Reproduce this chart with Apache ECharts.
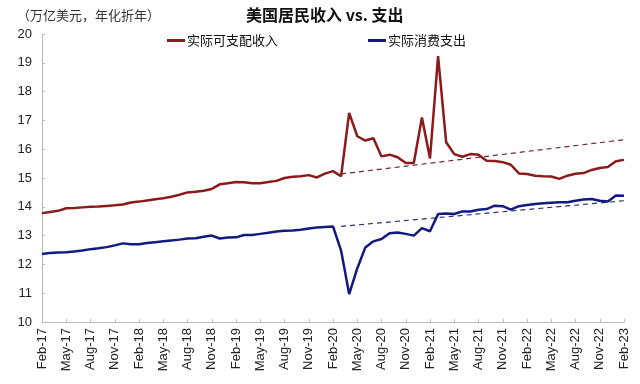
<!DOCTYPE html>
<html>
<head>
<meta charset="utf-8">
<script src="https://cdn.jsdelivr.net/npm/echarts@6/dist/echarts.min.js"></script>
<style>
html,body{margin:0;padding:0;background:#fff;}
#chart{width:640px;height:384px;}
</style>
</head>
<body>
<div id="chart"></div>
<script>
var monthNames = ['Jan','Feb','Mar','Apr','May','Jun','Jul','Aug','Sep','Oct','Nov','Dec'];
var categories = [];
for (var k = 0; k < 73; k++) {
  var m = (1 + k) % 12;
  var y = 17 + Math.floor((1 + k) / 12);
  categories.push(monthNames[m] + '-' + y);
}

var incomeName = '实际可支配收入';
var spendName = '实际消费支出';

var income = [
  13.78, 13.82, 13.86, 13.95, 13.96, 13.98, 14.00, 14.01, 14.03, 14.05, 14.08, 14.15,
  14.18, 14.22, 14.26, 14.30, 14.35, 14.42, 14.50, 14.52, 14.56, 14.62, 14.78, 14.82,
  14.86, 14.85, 14.82, 14.82, 14.86, 14.90, 15.00, 15.04, 15.06, 15.10, 15.02, 15.15,
  15.24, 15.06, 17.26, 16.45, 16.30, 16.38, 15.75, 15.81, 15.72, 15.52, 15.52, 17.10,
  15.68, 19.23, 16.24, 15.83, 15.74, 15.83, 15.81, 15.60, 15.59, 15.55, 15.46, 15.16,
  15.14, 15.08, 15.06, 15.05, 14.97, 15.08, 15.15, 15.17, 15.28, 15.35, 15.38, 15.58,
  15.63
];

var spending = [
  12.36, 12.40, 12.41, 12.42, 12.45, 12.48, 12.53, 12.56, 12.60, 12.66, 12.73, 12.70,
  12.70, 12.74, 12.77, 12.80, 12.83, 12.86, 12.90, 12.91, 12.96, 13.00, 12.90, 12.93,
  12.94, 13.02, 13.02, 13.06, 13.10, 13.14, 13.17, 13.18, 13.20, 13.25, 13.28, 13.30,
  13.32, 12.48, 10.97, 11.86, 12.59, 12.80, 12.88, 13.08, 13.11, 13.06, 13.00, 13.26,
  13.15, 13.75, 13.77, 13.75, 13.84, 13.84, 13.90, 13.92, 14.04, 14.02, 13.90, 14.02,
  14.06, 14.10, 14.12, 14.14, 14.16, 14.16, 14.21, 14.25, 14.27, 14.21, 14.18, 14.39,
  14.38
];

// Pre-pandemic trend lines: start (Mar-20) and end (Feb-23) values
var trendStartIndex = 37;
var trendEndIndex = 72;
var incomeTrend = [15.14, 16.33];
var spendTrend = [13.32, 14.21];

function trendSeriesData(pair) {
  var arr = [];
  for (var i = 0; i < categories.length; i++) arr.push(null);
  arr[trendStartIndex] = pair[0];
  arr[trendEndIndex] = pair[1];
  return arr;
}

var chart = echarts.init(document.getElementById('chart'));
var fontFam = '"Noto Sans CJK SC", "Liberation Sans", Arial, sans-serif';
chart.setOption({
  animation: false,
  backgroundColor: '#fff',
  textStyle: { fontFamily: fontFam },
  title: [
    { text: '美国居民收入 vs. 支出', left: 241, top: 2,
      textStyle: { fontSize: 16, fontWeight: 'bold', color: '#111', fontFamily: fontFam } },
    { text: '（万亿美元，年化折年）', left: 12, top: 4,
      textStyle: { fontSize: 13, fontWeight: 'normal', color: '#333', fontFamily: fontFam } }
  ],
  legend: {
    top: 29, left: 162, itemGap: 90, itemWidth: 18, itemHeight: 3,
    icon: 'rect',
    textStyle: { fontSize: 13, color: '#111', padding: [0, 0, 0, -3] },
    data: [incomeName, spendName]
  },
  grid: { left: 42, right: 16, top: 34, bottom: 62 },
  xAxis: {
    type: 'category',
    data: categories,
    boundaryGap: false,
    axisLine: { lineStyle: { color: '#bbb', width: 1 } },
    axisTick: { show: true, interval: 2, length: 3, inside: true, lineStyle: { color: '#bbb' } },
    axisLabel: { interval: 2, rotate: 90, fontSize: 13, color: '#222', margin: 6,
      fontFamily: '"Liberation Sans", Arial, sans-serif' }
  },
  yAxis: {
    type: 'value',
    min: 10, max: 20, interval: 1,
    splitLine: { show: false },
    axisLine: { show: true, lineStyle: { color: '#bbb', width: 1 } },
    axisTick: { show: true, inside: true, length: 3, lineStyle: { color: '#bbb' } },
    axisLabel: { fontSize: 13, color: '#222', margin: 10,
      fontFamily: '"Liberation Sans", Arial, sans-serif' }
  },
  series: [
    { name: incomeName, type: 'line', data: income, symbol: 'none',
      lineStyle: { color: '#8b1a1a', width: 2.5 }, itemStyle: { color: '#8b1a1a' }, z: 3 },
    { name: spendName, type: 'line', data: spending, symbol: 'none',
      lineStyle: { color: '#121a7e', width: 2.5 }, itemStyle: { color: '#121a7e' }, z: 3 },
    { name: 'incomeTrend', type: 'line', data: trendSeriesData(incomeTrend), symbol: 'none',
      connectNulls: true,
      lineStyle: { color: '#6e2a3a', width: 1.2, type: [5, 4] }, z: 2 },
    { name: 'spendTrend', type: 'line', data: trendSeriesData(spendTrend), symbol: 'none',
      connectNulls: true,
      lineStyle: { color: '#2b3470', width: 1.2, type: [5, 4] }, z: 2 }
  ]
});
</script>
</body>
</html>
